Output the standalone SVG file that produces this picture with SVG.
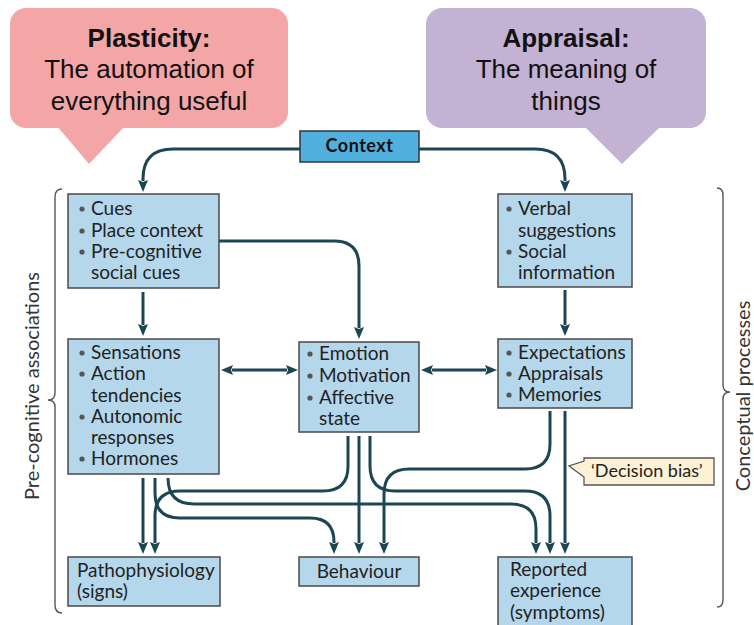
<svg xmlns="http://www.w3.org/2000/svg" width="754" height="625" viewBox="0 0 754 625">
<style>
.title{font-family:"Liberation Sans",Arial,sans-serif;font-size:26px;fill:#111;text-anchor:middle}
.b{font-weight:bold}
.box{fill:#b5d7ec;stroke:#4a4a4a;stroke-width:1.5}
.t{font-family:Lato,"Noto Sans",sans-serif;font-size:19px;fill:#222}
.dot{fill:#555}
.conn{fill:none;stroke:#1c4752;stroke-width:3}
.brace{fill:none;stroke:#555;stroke-width:1.4}
.side{font-family:Lato,"Noto Sans",sans-serif;font-size:20px;fill:#333;text-anchor:middle}
</style>
<defs>
<marker id="ah" viewBox="0 0 12 10" markerWidth="12" markerHeight="10" refX="1" refY="5" orient="auto-start-reverse" markerUnits="userSpaceOnUse">
<path d="M0,0 L12,5 L0,10 L2,5 Z" fill="#1c4752"/>
</marker>
</defs>

<g id="plasticity">
<rect x="10" y="8" width="278" height="120" rx="16" fill="#f4a6a7"/>
<path d="M57,126 L125,126 L89,164 Z" fill="#f4a6a7"/>
<text class="title b" x="149" y="47">Plasticity:</text>
<text class="title" x="149" y="78">The automation of</text>
<text class="title" x="149" y="110">everything useful</text>
</g>

<g id="appraisal">
<rect x="426" y="8" width="280" height="120" rx="16" fill="#c4b2d4"/>
<path d="M584,126 L661,126 L622,164 Z" fill="#c4b2d4"/>
<text class="title b" x="566" y="47">Appraisal:</text>
<text class="title" x="566" y="78">The meaning of</text>
<text class="title" x="566" y="110">things</text>
</g>

<g id="context">
<rect x="300" y="131" width="119" height="31" fill="#52b0de" stroke="#333" stroke-width="1.5"/>
<text x="359.5" y="152" font-family="Lato,'Noto Sans',sans-serif" font-size="18" font-weight="bold" fill="#111" text-anchor="middle" letter-spacing="0.5">Context</text>
</g>

<g id="cues">
<rect class="box" x="68" y="194" width="151" height="94"/>
<circle class="dot" cx="82" cy="209" r="2.6"/><text class="t" x="91" y="215">Cues</text>
<circle class="dot" cx="82" cy="231" r="2.6"/><text class="t" x="91" y="237">Place context</text>
<circle class="dot" cx="82" cy="252" r="2.6"/><text class="t" x="91" y="258">Pre-cognitive</text>
<text class="t" x="91" y="279">social cues</text>
</g>

<g id="verbal">
<rect class="box" x="498" y="194" width="134" height="93"/>
<circle class="dot" cx="509" cy="209" r="2.6"/><text class="t" x="518" y="215">Verbal</text>
<text class="t" x="518" y="237">suggestions</text>
<circle class="dot" cx="509" cy="252" r="2.6"/><text class="t" x="518" y="258">Social</text>
<text class="t" x="518" y="279">information</text>
</g>

<g id="sensations">
<rect class="box" x="68" y="339" width="151" height="135"/>
<circle class="dot" cx="82" cy="353" r="2.6"/><text class="t" x="91" y="359">Sensations</text>
<circle class="dot" cx="82" cy="374" r="2.6"/><text class="t" x="91" y="380">Action</text>
<text class="t" x="91" y="402">tendencies</text>
<circle class="dot" cx="82" cy="417" r="2.6"/><text class="t" x="91" y="423">Autonomic</text>
<text class="t" x="91" y="444">responses</text>
<circle class="dot" cx="82" cy="459" r="2.6"/><text class="t" x="91" y="465">Hormones</text>
</g>

<g id="emotion">
<rect class="box" x="299" y="342" width="120" height="90"/>
<circle class="dot" cx="310" cy="354" r="2.6"/><text class="t" x="319" y="360">Emotion</text>
<circle class="dot" cx="310" cy="376" r="2.6"/><text class="t" x="319" y="382">Motivation</text>
<circle class="dot" cx="310" cy="398" r="2.6"/><text class="t" x="319" y="404">Affective</text>
<text class="t" x="319" y="425">state</text>
</g>

<g id="expectations">
<rect class="box" x="498" y="339" width="134" height="69"/>
<circle class="dot" cx="509" cy="353" r="2.6"/><text class="t" x="518" y="359">Expectations</text>
<circle class="dot" cx="509" cy="374" r="2.6"/><text class="t" x="518" y="380">Appraisals</text>
<circle class="dot" cx="509" cy="395" r="2.6"/><text class="t" x="518" y="401">Memories</text>
</g>

<g id="pathophysiology">
<rect class="box" x="68" y="557" width="152" height="49"/>
<text class="t" x="77" y="577">Pathophysiology</text>
<text class="t" x="77" y="598">(signs)</text>
</g>

<g id="behaviour">
<rect class="box" x="299" y="557" width="120" height="29"/>
<text class="t" x="359" y="578" text-anchor="middle">Behaviour</text>
</g>

<g id="reported">
<rect class="box" x="498" y="557" width="134" height="75"/>
<text class="t" x="510" y="576">Reported</text>
<text class="t" x="510" y="597">experience</text>
<text class="t" x="510" y="619">(symptoms)</text>
</g>

<g id="decision-bias">
<path d="M584,458 H714 V485 H584 V477 L569,466 L584,461 Z" fill="#fdf1d6" stroke="#555" stroke-width="1.3"/>
<text x="591" y="477" font-family="Lato,'Noto Sans',sans-serif" font-size="18" fill="#222">‘Decision bias’</text>
</g>

<g id="braces">
<path class="brace" d="M62,189 Q55,189 55,197 V393 Q55,400 48,400 Q55,400 55,407 V605 Q55,613 62,613"/>
<text class="side" transform="translate(39,386) rotate(-90)">Pre-cognitive associations</text>
<path class="brace" d="M717,188 Q723,188 723,195 V385 Q723,392 730,392 Q723,392 723,399 V600 Q723,607 717,607"/>
<text class="side" transform="translate(750,396) rotate(-90)">Conceptual processes</text>
</g>

<g id="connectors">
<path class="conn" marker-end="url(#ah)" d="M300,149 H173 Q143,149 143,179 V181"/>
<path class="conn" marker-end="url(#ah)" d="M419,149 H535 Q565,149 565,179 V181"/>
<path class="conn" marker-end="url(#ah)" d="M143,292 V325"/>
<path class="conn" marker-end="url(#ah)" d="M565,290 V325"/>
<path class="conn" marker-end="url(#ah)" d="M219,241 H334 Q359,241 359,266 V328"/>
<path class="conn" marker-start="url(#ah)" marker-end="url(#ah)" d="M232,370 H287"/>
<path class="conn" marker-start="url(#ah)" marker-end="url(#ah)" d="M432,370 H486"/>
<path class="conn" marker-end="url(#ah)" d="M143,478 V543"/>
<path class="conn" marker-end="url(#ah)" d="M155,478 V493 Q155,518 180,518 H310 Q334,518 334,542 V543"/>
<path class="conn" marker-end="url(#ah)" d="M168,478 Q168,504 194,504 H511 Q536,504 536,529 V543"/>
<path class="conn" marker-end="url(#ah)" d="M348,436 V466 Q348,491 323,491 H180 Q155,491 155,516 V543"/>
<path class="conn" marker-end="url(#ah)" d="M359,436 V543"/>
<path class="conn" marker-end="url(#ah)" d="M370,436 V466 Q370,491 395,491 H525 Q550,491 550,516 V543"/>
<path class="conn" marker-end="url(#ah)" d="M550,411 V444 Q550,469 525,469 H409 Q384,469 384,494 V543"/>
<path class="conn" marker-end="url(#ah)" d="M565,411 V543"/>
</g>
</svg>
